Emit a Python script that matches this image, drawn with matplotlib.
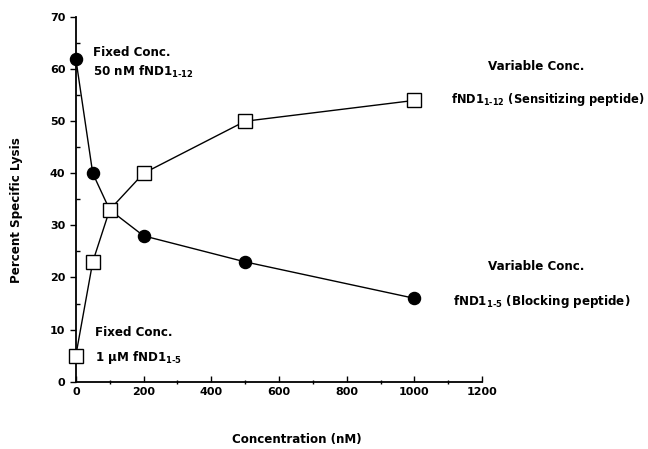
import matplotlib.pyplot as plt
from matplotlib.ticker import MultipleLocator

# data
conc = [0, 50, 100, 200, 500, 1000]
blocking = [62, 40, 33, 28, 23, 16]      # filled circles
sensitizing = [5, 23, 33, 40, 50, 54]    # open squares

plt.rcParams['font.family'] = ['DejaVu Sans']
plt.rcParams['font.weight'] = 'bold'
plt.rcParams['mathtext.fontset'] = 'dejavusans'
fs = 8
ts = 8.6

fig = plt.figure(figsize=(6.48, 4.49), dpi=100)
ax = fig.add_axes([0.117, 0.150, 0.627, 0.812])

ax.plot(conc, blocking, 'k-', lw=1, marker='o', ms=8.7, mfc='black', mec='black', zorder=3)
ax.plot(conc, sensitizing, 'k-', lw=1, marker='s', ms=10, mfc='white', mec='black', mew=1, zorder=4)

ax.set_xlim(0, 1200)
ax.set_ylim(0, 70)
ax.xaxis.set_major_locator(MultipleLocator(200))
ax.xaxis.set_minor_locator(MultipleLocator(100))
ax.yaxis.set_major_locator(MultipleLocator(10))
ax.yaxis.set_minor_locator(MultipleLocator(5))
ax.tick_params(axis='x', which='major', direction='in', length=4, width=1, labelsize=fs, pad=4)
ax.tick_params(axis='x', which='minor', direction='inout', length=3, width=1)
ax.tick_params(axis='y', which='major', direction='out', length=4, width=1, labelsize=fs)
ax.tick_params(axis='y', which='minor', direction='in', length=3, width=1)
for s in ['top', 'right']:
    ax.spines[s].set_visible(False)
for s in ['left', 'bottom']:
    ax.spines[s].set_linewidth(1.3)
for ln in ax.lines:
    ln.set_clip_on(False)

def px(x, y):
    return (x / 648, 1 - y / 449)

fig.text(*px(93, 52), 'Fixed Conc.', fontsize=ts, va='center', ha='left')
fig.text(*px(93, 72), r'50 nM fND1$_{\mathbf{1\text{-}12}}$', fontsize=ts, va='center', ha='left')
fig.text(*px(95, 333), 'Fixed Conc.', fontsize=ts, va='center', ha='left')
fig.text(*px(95, 357), '1 \u00b5M fND1$_{\\mathbf{1\\text{-}5}}$', fontsize=ts, va='center', ha='left')

fig.text(*px(488, 67), 'Variable Conc.', fontsize=ts, va='center', ha='left')
fig.text(*px(451, 100), r'fND1$_{\mathbf{1\text{-}12}}$ (Sensitizing peptide)', fontsize=8.3, va='center', ha='left')
fig.text(*px(488, 267), 'Variable Conc.', fontsize=ts, va='center', ha='left')
fig.text(*px(453, 301), r'fND1$_{\mathbf{1\text{-}5}}$ (Blocking peptide)', fontsize=ts, va='center', ha='left')

fig.text(*px(297, 440), 'Concentration (nM)', fontsize=ts, va='center', ha='center')
fig.text(*px(17, 210), 'Percent Specific Lysis', fontsize=ts, va='center', ha='center', rotation=90)

fig.savefig('out.png', dpi=100)
